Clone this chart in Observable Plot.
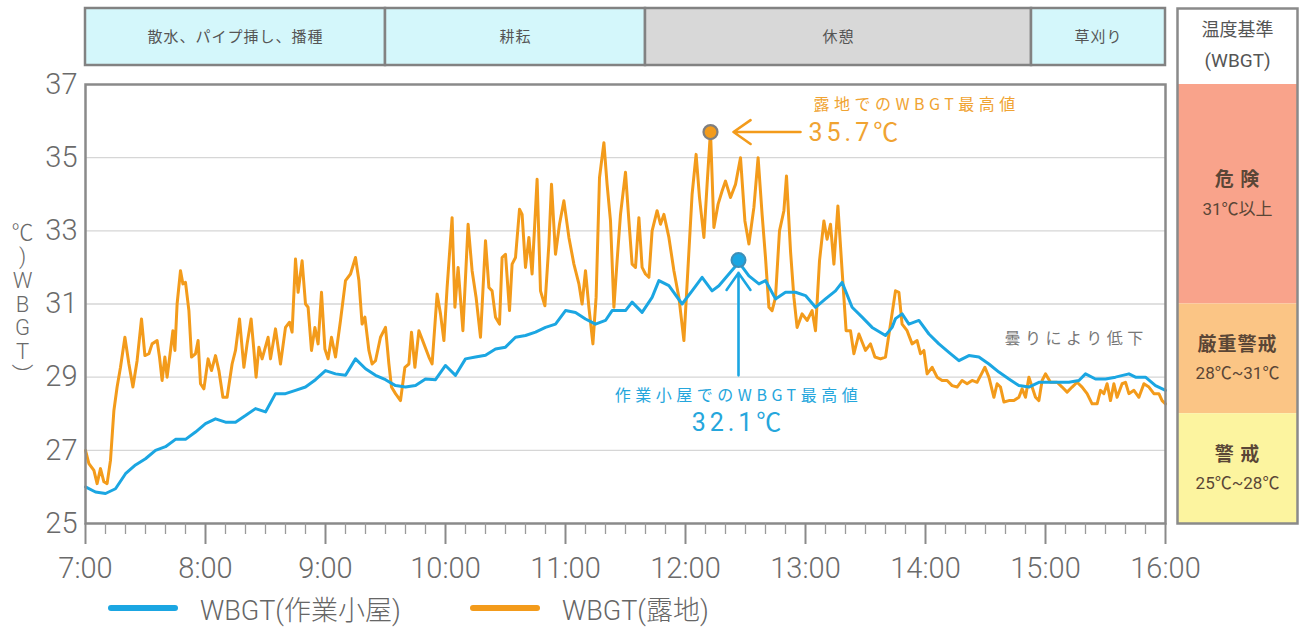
<!DOCTYPE html>
<html>
<head>
<meta charset="utf-8">
<script src="https://cdn.jsdelivr.net/npm/d3@7"></script>
<script src="https://cdn.jsdelivr.net/npm/@observablehq/plot@0.6"></script>
<style>
  html, body { margin: 0; padding: 0; background: #fff; }
  #wrap { position: relative; width: 1301px; height: 629px; overflow: hidden; font-family: "Noto Sans CJK JP", sans-serif; }
  g[aria-description="anno"] text { letter-spacing: 4.5px; }
  g[aria-description="anno-big"] text { letter-spacing: 4px; }
  g[aria-description="band-label"] text { letter-spacing: 1px; }
  g[aria-description="zone"] text { letter-spacing: 1px; }
  .lg { position: absolute; top: 590px; height: 36px; display: flex; align-items: center; color: #666;
        font-family: Roboto, "Noto Sans CJK JP", sans-serif; font-weight: 300; font-size: 27px; white-space: nowrap; }
  .lg .sw { display: inline-block; width: 70px; height: 6px; border-radius: 3px; margin-right: 22px; }
</style>
</head>
<body>
<div id="wrap"></div>
<script>
// ---------- data ----------
const hourLabels = ["7:00","8:00","9:00","10:00","11:00","12:00","13:00","14:00","15:00","16:00"];
const yTicks = [25, 27, 29, 31, 33, 35, 37];
const gridValues = [27, 29, 31, 33, 35];

// WBGT(作業小屋) — minutes after 7:00, value ℃
const shedMin = [0,5,10,15,20,25,30,35,40,45,50,55,60,65,70,75,80,85,90,95,100,105,110,115,120,125,130,135,
  140,145,150,155,160,165,170,175,180,185,190,195,200,205,210,215,220,225,230,235,240,245,250,255,260,263.3,
  270,273.3,278.3,283.3,286.7,291.7,298.3,303.3,308.3,313.3,316.7,321.7,326.7,331.7,336.7,340,345,350,355,360,
  365,370,375,378.3,383.3,388.3,393.3,400,403.3,405,408.3,411.7,416.7,421.7,426.7,431.7,436.7,441.7,446.7,451.7,
  456.7,461.7,466.7,471.7,476.7,481.7,486.7,491.7,496.7,500,505,510,515,521.7,525,530,535,540];
const shedWBGT = [26.0,25.86,25.82,25.95,26.36,26.6,26.77,27.0,27.1,27.3,27.3,27.5,27.73,27.86,27.77,27.77,27.95,28.14,28.05,28.55,28.55,28.64,28.73,28.93,29.18,29.09,29.05,29.5,
  29.23,29.05,28.93,28.77,28.73,28.77,28.95,28.93,29.32,29.05,29.5,29.55,29.6,29.77,29.82,30.09,30.14,30.23,30.36,30.45,30.82,30.77,30.59,30.45,30.55,30.82,
  30.82,31.05,30.77,31.18,31.64,31.5,31.0,31.36,31.73,31.36,31.5,31.82,32.14,31.77,31.55,31.64,31.14,31.32,31.32,31.23,
  30.91,31.14,31.36,31.59,30.91,30.64,30.36,30.14,30.36,30.6,30.73,30.45,30.55,30.18,29.91,29.68,29.45,29.59,29.55,29.36,
  29.14,28.95,28.77,28.73,28.86,28.86,28.86,28.86,28.91,29.09,28.95,28.95,29.0,29.09,29.0,29.0,28.77,28.64];

// WBGT(露地) — minutes after 7:00, value ℃
const openMin = [0,1.7,4.2,5.8,7.5,9.2,10.8,12.5,14.2,15.8,17.5,19.7,21.7,23.7,25.8,28,29.7,31.7,33.3,35.8,37,38.3,39.7,40.8,
  42.5,43.7,44.7,45.8,47.5,48.7,50,51.7,53,55,56.3,57.5,59.2,61.3,63,65,66.7,68.7,70.8,73.3,75,77,79.2,80.8,82.8,84.2,85.3,
  86.7,88.3,91.3,92.5,95,97.5,100,102,103.3,105,106.3,108.3,110,111.3,113,114.7,116.3,118,119.7,121.3,123,125,127.5,130,132.5,
  135,136.7,138.3,139.7,141.7,143.3,145,147.5,150,151.7,153,155,157.5,159.7,161.7,163,164.7,166.7,169.2,171.7,173.3,175.8,
  177.5,179.2,180.8,183.3,184.7,186.3,188.7,191.3,193.3,195.3,197.5,200,201.7,203.3,205,207,208.3,210,212,213.3,215,217,
  218.3,220,221.7,223.3,225.8,227.5,229.7,231.7,233,235,237,239.2,241.7,244.2,246.7,248.3,250,251.7,253.7,255.3,257,259.2,
  260.8,262.5,264.2,265.8,267.5,270,271.7,273.3,275,276.7,278.3,280,281.7,283.3,285.8,287.5,289.2,291.7,294.2,296.7,299.2,
  300.8,303.3,305.3,307,309.2,310.8,312.5,314.2,316.3,318.3,320,322.5,325,327.5,329.7,331.7,334.2,336.3,338.3,340,341.7,
  343.3,345,347,349.2,350.5,352.5,354.2,355.8,358.3,360.8,363.3,365,367,369.2,370.8,372.5,374.2,376.2,378.3,380.3,382.5,
  384.2,386.7,390,392.5,394.7,397.5,400,402.5,405,406.7,408.3,410.8,413.3,415.8,417.5,419.2,420.8,423.3,425.8,428.3,430.8,
  433.3,435.8,438.3,440.8,443.3,445.8,448,449.7,451.7,454.2,455.8,457.5,459.2,461.7,464.2,466.7,468.3,470,471.7,473.3,475,
  476.7,478.3,480,482.5,485.8,488.3,490.8,493.3,495.8,498.3,500.8,503.3,505.8,507.5,509.2,510.8,512.5,514.2,515.8,518.3,
  520,521.7,524.2,526.7,529.2,531.7,534.2,536.7,538.3,540];
const openWBGT = [27.0,26.64,26.45,26.09,26.5,26.14,26.09,26.73,28.09,28.73,29.27,30.09,29.36,28.73,29.45,30.59,29.59,29.64,29.91,30.0,29.55,28.91,29.55,29.0,
  29.73,30.27,29.73,31.0,31.91,31.55,31.59,30.82,29.55,29.64,30.0,28.82,28.68,29.5,29.18,29.59,29.18,28.45,28.45,29.36,29.73,30.59,29.27,29.91,30.59,29.73,29.0,
  29.82,29.5,30.09,29.5,30.32,29.36,30.36,30.5,30.23,32.23,31.32,32.18,31.0,30.91,29.73,30.36,29.91,31.32,29.77,29.5,30.09,29.55,30.55,31.64,31.82,
  32.27,31.64,30.45,30.64,29.73,29.36,29.45,30.09,30.36,29.36,28.73,28.55,28.36,29.27,29.36,30.23,29.27,30.27,29.91,29.55,29.36,31.27,
  30.73,30.0,31.45,33.36,30.91,32.0,30.27,33.18,31.91,31.18,30.09,32.73,31.45,31.36,30.64,30.45,32.27,32.36,30.82,32.09,32.27,33.59,
  33.45,32.0,32.82,31.82,34.41,31.36,30.95,32.64,34.27,32.36,33.18,33.82,32.82,32.09,31.55,31.0,31.91,30.91,29.91,31.18,34.45,35.41,
  34.27,33.27,30.91,32.18,33.45,34.6,33.27,32.09,32.0,33.36,32.0,31.82,31.73,33.0,33.55,33.18,33.45,32.82,31.91,31.18,30.0,
  31.55,34.0,35.09,33.91,32.82,34.27,35.73,33.09,33.73,34.09,34.36,33.91,34.27,35.0,33.27,32.64,33.64,35.0,33.45,32.27,30.91,
  30.82,31.18,33.0,33.55,34.5,32.45,31.18,30.36,30.73,30.55,30.82,30.27,32.18,33.27,32.77,33.18,32.09,33.68,31.91,30.27,30.27,
  29.64,30.18,29.73,29.91,29.55,29.5,29.55,30.45,31.36,31.32,30.45,30.27,29.91,30.0,29.64,29.73,29.09,29.27,29.0,28.91,28.91,
  28.77,28.73,28.91,28.82,28.91,28.86,29.09,29.27,29.0,28.45,28.82,28.73,28.32,28.36,28.36,28.45,28.68,28.45,29.0,28.73,28.45,
  28.36,28.91,29.09,28.86,28.86,28.73,28.59,28.73,28.86,28.73,28.55,28.27,28.27,28.64,28.55,28.82,28.36,28.82,28.45,28.82,
  28.86,28.55,28.64,28.45,28.82,28.73,28.55,28.55,28.36,28.27];

// work schedule band
const taskNames = ["散水、パイプ挿し、播種", "耕耘", "休憩", "草刈り"];
const taskStart = ["7:00", "9:30", "11:40", "14:53"];
const taskEnd   = ["9:30", "11:40", "14:53", "16:00"];
const taskKind  = ["work", "work", "rest", "work"];

// WBGT criteria zones
const zoneNames  = ["危 険", "厳重警戒", "警 戒"];
const zoneRanges = ["31℃以上", "28℃~31℃", "25℃~28℃"];
const zoneLow  = [31, 28, 25];
const zoneHigh = [37, 31, 28];

// peaks
const openPeak = {time: 312.5, value: 35.7, label: "露地でのWBGT最高値", text: "35.7℃"};
const shedPeak = {time: 326.5, value: 32.1, label: "作業小屋でのWBGT最高値", text: "32.1℃"};

// ---------- helpers ----------
const BLUE = "#1ba6e2", ORANGE = "#f39b1b";
const BLUE_TXT = "#25a6dc", ORANGE_TXT = "#f0a332";
const parseT = d3.utcParse("%H:%M");
const base = parseT("7:00");
const T = m => new Date(+base + Math.round(m * 60000));
const fmt = d3.utcFormat("%-H:%M");
const xDomain = [parseT(hourLabels[0]), parseT(hourLabels[hourLabels.length - 1])];
const hourTicks = hourLabels.map(parseT);
const minorTicks = d3.utcMinute.every(10).range(xDomain[0], xDomain[1]).filter(d => d.getUTCMinutes() !== 0);

const shed = shedMin.map((m, i) => ({t: T(m), v: shedWBGT[i]}));
const open = openMin.map((m, i) => ({t: T(m), v: openWBGT[i]}));
const tasks = taskNames.map((name, i) => ({name, start: parseT(taskStart[i]), end: parseT(taskEnd[i]), kind: taskKind[i]}));
const zones = zoneNames.map((name, i) => ({name, range: zoneRanges[i], lo: zoneLow[i], hi: zoneHigh[i], mid: (zoneLow[i] + zoneHigh[i]) / 2}));

const JP = "'Noto Sans CJK JP', sans-serif";
const NUM = "Roboto, 'Noto Sans CJK JP', sans-serif";
const wrap = document.getElementById("wrap");
const abs = (left, top) => ({position: "absolute", left: left + "px", top: top + "px", background: "transparent", overflow: "visible", fontFamily: NUM});

// ---------- main chart ----------
const main = Plot.plot({
  width: 1301, height: 629,
  marginLeft: 85, marginRight: 136, marginTop: 84, marginBottom: 106,
  x: {type: "utc", domain: xDomain, axis: null},
  y: {domain: [25, 37], axis: null},
  style: abs(0, 0),
  marks: [
    Plot.gridY(gridValues, {stroke: "#d6d6d6", strokeOpacity: 1, strokeWidth: 1.3}),
    Plot.line(open, {x: "t", y: "v", stroke: ORANGE, strokeWidth: 3, strokeLinejoin: "round"}),
    Plot.line(shed, {x: "t", y: "v", stroke: BLUE, strokeWidth: 3, strokeLinejoin: "round"}),
    Plot.frame({stroke: "#8a8a8a", strokeWidth: 2.5}),
    Plot.axisX(minorTicks, {anchor: "bottom", tickSize: 11, tickFormat: () => "", color: "#9a9a9a", strokeWidth: 1.3, label: null}),
    Plot.axisX(hourTicks, {anchor: "bottom", tickSize: 21, tickFormat: () => "", color: "#8a8a8a", strokeWidth: 2, label: null}),
    Plot.axisX(hourTicks, {anchor: "bottom", tickSize: 0, tickPadding: 34, tickFormat: fmt, color: "#6a6a6a", fontSize: 29, fontWeight: 300, fontFamily: NUM, label: null}),
    Plot.axisY(yTicks, {anchor: "left", tickSize: 0, tickPadding: 8, tickFormat: d => String(d), color: "#6a6a6a", fontSize: 29, fontWeight: 300, fontFamily: NUM, label: null}),
    Plot.text(["℃\n)\nW\nB\nG\nT\n︶"], {x: () => xDomain[0], y: () => 31, dx: -63, text: d => d, fontSize: 22, lineHeight: 1.08, fill: "#6a6a6a", fontFamily: NUM, fontWeight: 300}),
    // open-field peak
    Plot.arrow([openPeak], {x1: d => T(d.time + 45), x2: d => T(d.time + 11.5), y1: "value", y2: "value", stroke: ORANGE, strokeWidth: 2.6, headLength: 12, headAngle: 70}),
    Plot.dot([openPeak], {x: d => T(d.time), y: "value", r: 7, fill: ORANGE, stroke: "#7f7f7f", strokeWidth: 2.2}),
    Plot.text([openPeak], {x: d => T(d.time + 51.5), y: d => d.value + 0.74, text: "label", textAnchor: "start", fontSize: 16, fill: ORANGE_TXT, fontFamily: JP, ariaDescription: "anno"}),
    Plot.text([openPeak], {x: d => T(d.time + 49), y: d => d.value - 0.03, text: "text", textAnchor: "start", fontSize: 25, fill: ORANGE_TXT, fontFamily: NUM, ariaDescription: "anno-big"}),
    // shed peak
    Plot.arrow([shedPeak], {x: d => T(d.time), y1: d => d.value - 3.05, y2: d => d.value - 0.25, stroke: BLUE, strokeWidth: 2.6, headLength: 12, headAngle: 70}),
    Plot.dot([shedPeak], {x: d => T(d.time), y: d => d.value + 0.1, r: 7, fill: BLUE, stroke: "#3d8fb8", strokeWidth: 2}),
    Plot.text([shedPeak], {x: d => T(d.time), y: d => d.value - 3.6, text: "label", fontSize: 16, fill: BLUE_TXT, fontFamily: JP, ariaDescription: "anno"}),
    Plot.text([shedPeak], {x: d => T(d.time), y: d => d.value - 4.36, text: "text", fontSize: 25, fill: BLUE_TXT, fontFamily: NUM, ariaDescription: "anno-big"}),
    // cloud note
    Plot.text(["曇りにより低下"], {x: () => T(459.5), y: () => 30.06, text: d => d, textAnchor: "start", fontSize: 16, fill: "#777", fontFamily: JP, ariaDescription: "anno"})
  ]
});
wrap.appendChild(main);

// ---------- schedule band ----------
const band = Plot.plot({
  width: 1301, height: 70,
  marginLeft: 85, marginRight: 136, marginTop: 8, marginBottom: 5,
  x: {type: "utc", domain: xDomain, axis: null},
  color: {domain: ["work", "rest"], range: ["#d4f7fb", "#d8d8d8"]},
  style: abs(0, 0),
  marks: [
    Plot.rect(tasks, {x1: "start", x2: "end", fill: "kind", stroke: "#828282", strokeWidth: 2.5}),
    Plot.text(tasks, {x: d => new Date((+d.start + +d.end) / 2), text: "name", fontSize: 15, fill: "#555", fontFamily: JP, ariaDescription: "band-label"})
  ]
});
wrap.appendChild(band);

// ---------- criteria panel ----------
const panel = Plot.plot({
  width: 120, height: 629,
  marginLeft: 0, marginRight: 0, marginTop: 84, marginBottom: 106,
  x: {domain: [0, 1], axis: null},
  y: {domain: [25, 37], axis: null},
  color: {domain: zoneNames, range: ["#f9a38b", "#fbc585", "#fcf49f"]},
  style: abs(1177, 0),
  marks: [
    Plot.rect(zones, {x1: 0, x2: 1, y1: "lo", y2: "hi", fill: "name"}),
    Plot.text(zones, {x: 0.5, y: "mid", dy: -14, text: "name", fontSize: 19, fill: "#5a4636", fontFamily: JP, fontWeight: "bold", ariaDescription: "zone"}),
    Plot.text(zones, {x: 0.5, y: "mid", dy: 15, text: "range", fontSize: 17, fill: "#5a4636", fontFamily: NUM}),
    Plot.text(["温度基準"], {frameAnchor: "top", lineAnchor: "middle", dy: -54, text: d => d, fontSize: 18, fill: "#555", fontFamily: JP}),
    Plot.text(["(WBGT)"], {frameAnchor: "top", lineAnchor: "middle", dy: -24, text: d => d, fontSize: 19, fill: "#555", fontFamily: NUM}),
    Plot.frame({stroke: "#8a8a8a", strokeWidth: 2.5, insetTop: -76})
  ]
});
wrap.appendChild(panel);

// ---------- legend ----------
const legendItems = [
  {label: "WBGT(作業小屋)", color: BLUE, left: 108},
  {label: "WBGT(露地)", color: ORANGE, left: 470}
];
for (const it of legendItems) {
  const div = document.createElement("div");
  div.className = "lg";
  div.style.left = it.left + "px";
  const sw = document.createElement("span");
  sw.className = "sw";
  sw.style.background = it.color;
  div.appendChild(sw);
  div.appendChild(document.createTextNode(it.label));
  wrap.appendChild(div);
}
</script>
</body>
</html>
